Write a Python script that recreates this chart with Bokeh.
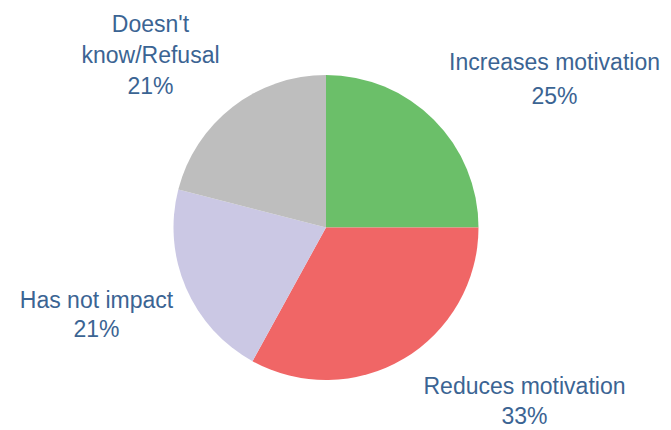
from math import pi

from bokeh.core.properties import value
from bokeh.embed import file_html
from bokeh.models import ColumnDataSource, Range1d
from bokeh.plotting import figure
from bokeh.resources import INLINE

# Survey answers: effect on motivation
categories = ["Increases motivation", "Reduces motivation", "Has not impact", "Doesn't know/Refusal"]
shares = [25, 33, 21, 21]
colors = ["#6bbf69", "#f06666", "#cbc8e4", "#bebebe"]

# How each category name is broken over lines in its label
label_lines = [["Increases motivation"], ["Reduces motivation"], ["Has not impact"], ["Doesn't", "know/Refusal"]]

W, H = 671, 430
CX, CY, R = 325.5, H - 227, 152.5
TEXT_COLOR = "#3b6493"
FONT = value("Liberation Sans")

# Label block layout (x centre, y of first line in screen pixels, line step)
label_pos = [(554, 61.5, 34), (524, 385, 30.5), (96, 299, 29.5), (150, 23, 31)]

total = float(sum(shares))
starts, ends = [], []
acc = 0.0
for s in shares:
    # clockwise from 12 o'clock
    starts.append(pi / 2 - acc / total * 2 * pi)
    acc += s
    ends.append(pi / 2 - acc / total * 2 * pi)

src = ColumnDataSource(dict(start=starts, end=ends, color=colors, cat=categories))

p = figure(width=W, height=H, x_range=Range1d(0, W), y_range=Range1d(0, H),
           output_backend="svg", toolbar_location=None, min_border=0)
p.axis.visible = False
p.grid.visible = False
p.outline_line_color = None
p.background_fill_color = "white"
p.border_fill_color = "white"

p.wedge(x=CX, y=CY, radius=R, start_angle="start", end_angle="end", direction="clock",
        fill_color="color", line_color=None, source=src)

tx, ty, tt = [], [], []
for lines, share, (x0, y0, step) in zip(label_lines, shares, label_pos):
    for i, line in enumerate(lines + [f"{share}%"]):
        tx.append(x0)
        ty.append(H - (y0 + i * step))
        tt.append(line)

p.text(x=tx, y=ty, text=tt, text_align="center", text_baseline="middle",
       text_font=FONT, text_font_size="23px", text_color=TEXT_COLOR)

open("out.html", "w").write(file_html(p, INLINE))
